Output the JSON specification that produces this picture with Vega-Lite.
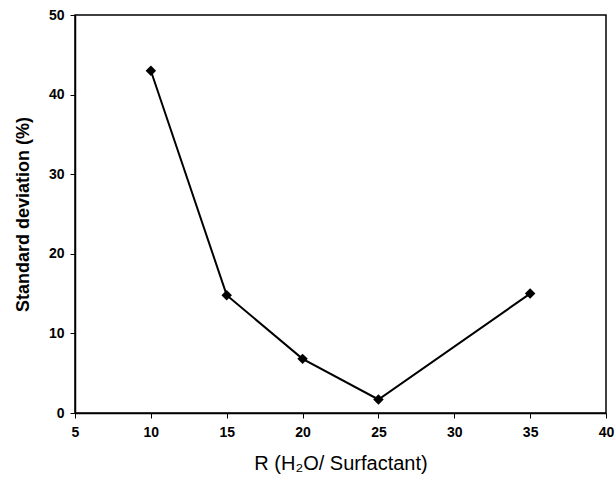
{
  "$schema": "https://vega.github.io/schema/vega-lite/v6.json",
  "autosize": "none",
  "width": 531,
  "height": 398,
  "padding": {"left": 75, "top": 15, "right": 10, "bottom": 69},
  "background": "white",
  "data": {"values": [
    {"R": 10, "sd": 43.0},
    {"R": 15, "sd": 14.8},
    {"R": 20, "sd": 6.8},
    {"R": 25, "sd": 1.7},
    {"R": 35, "sd": 15.0}
  ]},
  "config": {
    "view": {"stroke": "black", "strokeWidth": 1.5},
    "axis": {
      "grid": false,
      "domainColor": "black",
      "domainWidth": 1.5,
      "tickColor": "black",
      "tickWidth": 1,
      "tickSize": 5,
      "labelFont": "Liberation Sans",
      "labelFontSize": 14,
      "labelFontWeight": "bold",
      "labelColor": "black",
      "titleFont": "Liberation Sans",
      "titleColor": "black"
    }
  },
  "encoding": {
    "x": {
      "field": "R", "type": "quantitative",
      "scale": {"domain": [5, 40], "nice": false, "zero": false},
      "axis": {"values": [5, 10, 15, 20, 25, 30, 35, 40], "title": "R (H₂O/ Surfactant)", "titleFontSize": 20, "titleFontWeight": "normal", "labelPadding": 7, "titlePadding": 14, "labelFlush": false}
    },
    "y": {
      "field": "sd", "type": "quantitative",
      "scale": {"domain": [0, 50], "nice": false},
      "axis": {"values": [0, 10, 20, 30, 40, 50], "title": "Standard deviation (%)", "titleFontSize": 18, "titleFontWeight": "bold", "labelPadding": 6, "titlePadding": 16, "labelFlush": false}
    }
  },
  "layer": [
    {"mark": {"type": "line", "color": "black", "strokeWidth": 2}},
    {"mark": {"type": "point", "shape": "diamond", "filled": true, "color": "black", "size": 110, "opacity": 1}}
  ]
}
